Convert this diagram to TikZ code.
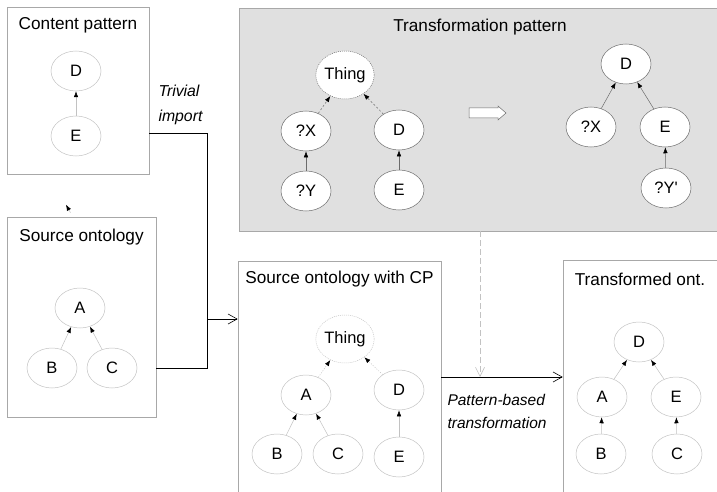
\documentclass[tikz,border=0pt]{standalone}
\usepackage{fontspec}
\setmainfont{Liberation Sans}
\usepackage{tikz}
\usetikzlibrary{shapes.geometric,arrows.meta}
\definecolor{bxgray}{gray}{0.66}
\definecolor{ndgray}{gray}{0.76}
\definecolor{tpfill}{gray}{0.88}
\definecolor{tpline}{gray}{0.42}

\begin{document}
\begin{tikzpicture}[x=1pt,y=-1pt,
every node/.style={font=\fontsize{16.5}{20}\selectfont},
bx/.style={draw=bxgray,line width=0.6pt,rectangle,inner sep=0pt},
ttl/.style={font=\fontsize{17.2}{20}\selectfont},
cls/.style={ellipse,draw=ndgray,line width=0.5pt,minimum width=50pt,minimum height=40pt,inner sep=0pt},
tcls/.style={cls,draw=tpline,fill=white},
thg/.style={cls,dash pattern=on 1pt off 1pt,minimum width=56pt,minimum height=48pt},
edge/.style={draw=ndgray,line width=0.5pt,-{Latex[length=6pt,width=4.5pt,color=black]}},
tedge/.style={edge,draw=tpline},
ln/.style={line width=0.8pt},
opn/.style={-{Straight Barb[length=9pt,width=10pt,line width=0.6pt]}}]
\useasboundingbox (0,0) rectangle (717,492);
\node[bx,minimum width=142pt,minimum height=167pt] (cp) at (78,90.5) {};
\node[bx,minimum width=149pt,minimum height=200pt] (src) at (81.5,317) {};
\node[bx,fill=tpfill,minimum width=482pt,minimum height=223pt] (tp) at (480,119.5) {};
\node[bx,minimum width=203pt,minimum height=232pt] (wcp) at (339.5,377) {};
\node[bx,minimum width=154pt,minimum height=234pt] (tr) at (640,377) {};
\node[ttl] (cpt) at ([yshift=-19pt]cp.north) {Content pattern};
\node[ttl] (srct) at ([yshift=-20pt]src.north) {Source ontology};
\node[ttl] (tpt) at ([yshift=-19pt]tp.north) {Transformation pattern};
\node[ttl] (wcpt) at ([yshift=-18pt]wcp.north) {Source ontology with CP};
\node[ttl] (trt) at ([yshift=-20pt]tr.north) {Transformed ont.};
% content pattern
\node[cls] (cD) at (76,71) {D};
\node[cls] (cE) at (76,136) {E};
% source ontology
\node[cls] (sA) at (80,308) {A};
\node[cls] (sB) at (52,368) {B};
\node[cls] (sC) at (112,368) {C};
% transformation pattern
\node[tcls,thg,draw=tpline] (tT) at (345,75) {Thing};
\node[tcls] (tX) at (306,131) {?X};
\node[tcls] (tY) at (306,191) {?Y};
\node[tcls] (tD) at (399,130) {D};
\node[tcls] (tE) at (399,190) {E};
\node[tcls] (rD) at (626,64) {D};
\node[tcls] (rX) at (591,127) {?X};
\node[tcls] (rE) at (665,127) {E};
\node[tcls] (rY) at (666,188) {?Y\textquotesingle};
\draw[draw=tpline,fill=white,line width=0.5pt] (469,108) -- (498,108) -- (498,106) -- (506,113)
   -- (498,120) -- (498,118) -- (469,118) -- cycle;
% source ontology with CP
\node[thg] (wT) at (345,339) {Thing};
\node[cls] (wA) at (306,395) {A};
\node[cls] (wD) at (399,390) {D};
\node[cls] (wB) at (277,454) {B};
\node[cls] (wC) at (338,454) {C};
\node[cls] (wE) at (399,457) {E};
% transformed ontology
\node[cls] (fD) at (639,342) {D};
\node[cls] (fA) at (602,397) {A};
\node[cls] (fE) at (676,397) {E};
\node[cls] (fB) at (601,454) {B};
\node[cls] (fC) at (677,454) {C};
\foreach \a/\b in {cE/cD,sB/sA,sC/sA,wB/wA,wC/wA,wE/wD,fA/fD,fE/fD,fB/fA,fC/fE} {
   \draw[edge] (\a) -- (\b);
}
\foreach \a/\b in {tY/tX,tE/tD,rX/rD,rE/rD,rY/rE} {
   \draw[tedge] (\a) -- (\b);
}
\draw[tedge,dash pattern=on 2pt off 2pt] (tX) -- (tT);
\draw[tedge,dash pattern=on 2pt off 2pt] (tD) -- (tT);
\draw[edge,dash pattern=on 1pt off 1.5pt] (wA) -- (wT);
\draw[edge,dash pattern=on 1pt off 1.5pt] (wD) -- (wT);
\draw[edge] ([xshift=-11pt,yshift=4pt]src.north) -- ([xshift=-15.5pt,yshift=12pt]src.north);
% connectors
\coordinate (jn) at (207,319);
\draw[ln] ([yshift=-42.5pt]cp.east) -| (jn);
\draw[ln] ([yshift=-51pt]src.east) -| (jn);
\draw[ln,opn] (jn) -- (jn -| wcp.west);
\draw[ln,opn] (wcp.east) -- (tr.west);
\draw[draw=ndgray,line width=0.6pt,dash pattern=on 6pt off 3pt,-{Straight Barb[length=9pt,width=9pt,line width=0.6pt,color=ndgray]}] (tp.south) -- (tp.south |- wcp.east);
\node[anchor=west,align=left,font=\fontsize{15.8}{25}\selectfont\itshape] (trv) at (155,105) {Trivial\\import};
\node[anchor=west,align=left,font=\fontsize{15.5}{23}\selectfont\itshape] (pbt) at (444,411) {Pattern-based\\transformation};
\end{tikzpicture}
\end{document}
